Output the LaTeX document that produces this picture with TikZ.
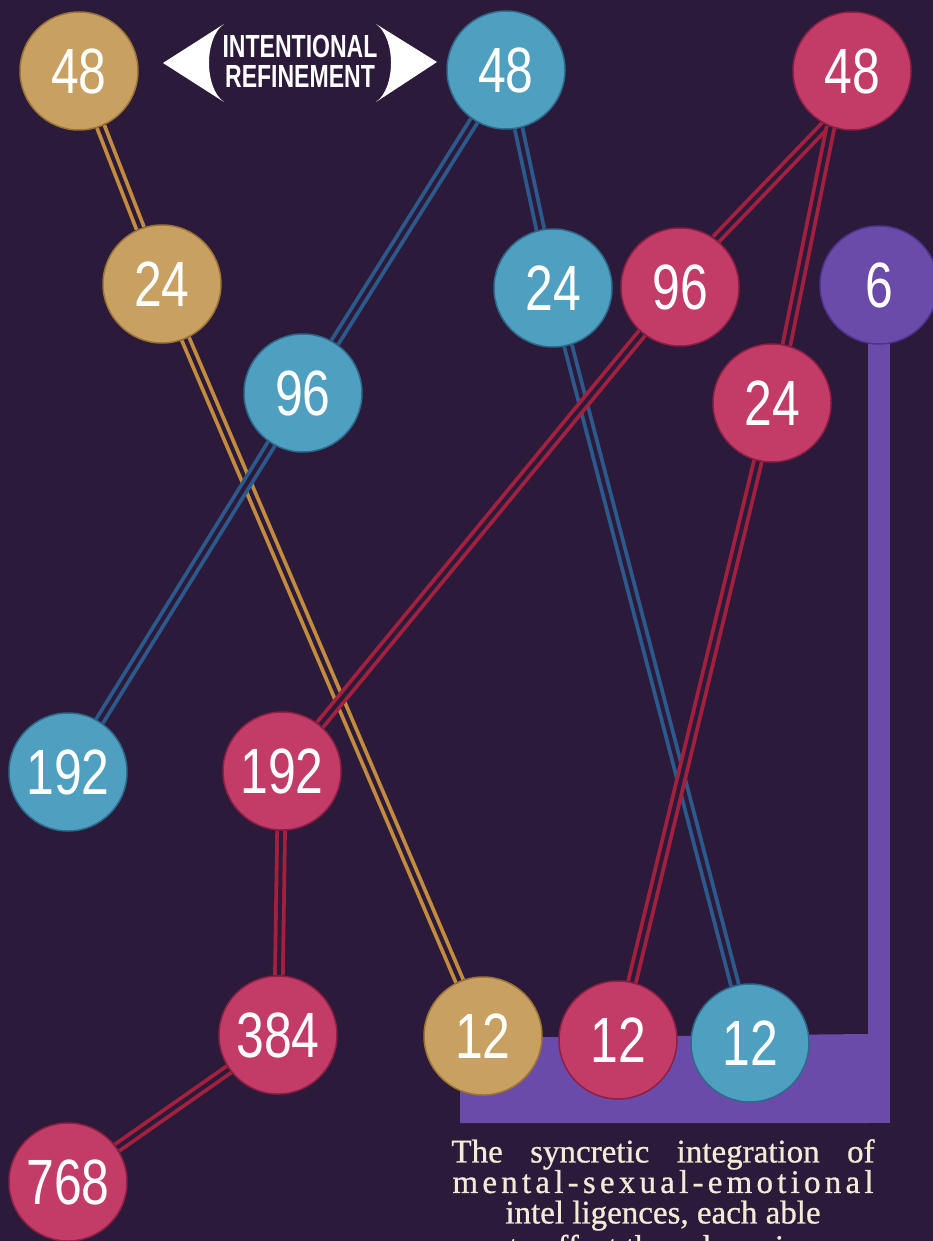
\documentclass[tikz,border=0pt]{standalone}
\usepackage{fontspec}
\setmainfont{Liberation Serif}
\newfontfamily\numfont[FakeStretch=0.78]{Liberation Sans}
\newfontfamily\condfont[FakeStretch=0.72]{Liberation Sans}
\newfontfamily\capfont[FakeBold=0.8]{Liberation Serif}
\usetikzlibrary{backgrounds}
\definecolor{bgc}{HTML}{2B1A3A}
\definecolor{goldc}{HTML}{C7A062}
\definecolor{goldd}{HTML}{9C7436}
\definecolor{goldr}{HTML}{C28B3E}
\definecolor{bluec}{HTML}{4F9FC0}
\definecolor{blued}{HTML}{2E6A8C}
\definecolor{bluer}{HTML}{2C5A8C}
\definecolor{redc}{HTML}{C33C68}
\definecolor{redd}{HTML}{8E1F44}
\definecolor{redr}{HTML}{A4203F}
\definecolor{purpc}{HTML}{6A4BAA}
\definecolor{purpd}{HTML}{4E3490}
\definecolor{capc}{HTML}{F3EBD6}
\begin{document}
\begin{tikzpicture}[x=1pt,y=-1pt,
  ball/.style={circle, minimum size=118pt, inner sep=0pt, line width=1.5pt,
    font=\numfont\fontsize{64}{64}\selectfont, text=white},
  goldball/.style={ball, fill=goldc, draw=goldd},
  blueball/.style={ball, fill=bluec, draw=blued},
  redball/.style={ball, fill=redc, draw=redd},
  purpball/.style={ball, fill=purpc, draw=purpd},
  rail/.style={double=bgc, double distance=4pt, line width=3.8pt},
  goldrail/.style={rail, draw=goldr},
  bluerail/.style={rail, draw=bluer},
  redrail/.style={rail, draw=redr},
  caption/.style={inner sep=0pt, align=center, text=capc,
    font=\capfont\fontsize{33}{30.5}\selectfont},
]
\useasboundingbox (0,0) rectangle (933,1241);

% nodes
\node[goldball] (g48) at (79,71) {48};
\node[blueball] (b48) at (506,70) {48};
\node[redball]  (r48) at (852,71) {48};
\node[goldball] (g24) at (162,284) {24};
\node[blueball] (b24) at (553,288) {24};
\node[redball]  (r96) at (680,287) {96};
\node[purpball] (p6)  at (879,285) {6};
\node[blueball] (b96) at (303,393) {96};
\node[redball]  (r24) at (772,403) {24};
\node[blueball] (b192) at (68,772) {192};
\node[redball]  (r192) at (282,771) {192};
\node[redball]  (r384) at (278,1035) {384};
\node[goldball] (g12) at (483,1036) {12};
\node[redball]  (r12) at (618,1040) {12};
\node[blueball] (b12) at (750,1043) {12};
\node[redball]  (r768) at (68,1182) {768};

\coordinate (trayR) at (879,1123);

\begin{pgfonlayer}{background}
  \fill[bgc] (0,0) rectangle (933,1241);
  % purple tray and bar
  \fill[purpc] (460,1038) -- (868,1034) -- (868,1123) -- (460,1123) -- cycle;
  \draw[purpc, line width=22pt] (p6.center) -- (trayR);
  % connectors
  \draw[goldrail] (g48) -- (g24);
  \draw[goldrail] (g24) -- (g12);
  \draw[bluerail] (b48) -- (b96);
  \draw[bluerail] (b48) -- (b24);
  \draw[bluerail] (b96) -- (b192);
  \draw[bluerail] (b24) -- (b12);
  \draw[redrail] (r48.244) -- (r96.53);
  \draw[redrail] (r48.249) -- (r24.76);
  \draw[redrail] (r96) -- (r192);
  \draw[redrail] (r24) -- (r12);
  \draw[redrail] (r192) -- (r384);
  \draw[redrail] (r384) -- (r768);
\end{pgfonlayer}

% double arrow label
\fill[white] (224,24) -- (163,63) -- (224,102) .. controls (204,88) and (204,38) .. (224,24) -- cycle;
\fill[white] (376,24) -- (437,62) -- (376,102) .. controls (396,88) and (396,38) .. (376,24) -- cycle;
\node[inner sep=0pt, text=white,
  font=\condfont\bfseries\fontsize{32}{32}\selectfont] (lbl1) at (300,46) {INTENTIONAL};
\node[inner sep=0pt, text=white,
  font=\condfont\bfseries\fontsize{32}{32}\selectfont] (lbl2) at (300,76) {REFINEMENT};

% caption
\begin{scope}
\clip (0,0) rectangle (933,1241);
\node[caption, anchor=north] (cap) at (663,1139)
  {\makebox[423pt][s]{The syncretic integration of}\\
   \makebox[421pt][s]{m\hfil e\hfil n\hfil t\hfil a\hfil l\hfil -\hfil s\hfil e\hfil x\hfil u\hfil a\hfil l\hfil -\hfil e\hfil m\hfil o\hfil t\hfil i\hfil o\hfil n\hfil a\hfil l}\\
   intel ligences, each able\\[4pt]
   to affect the subsuming};
\end{scope}
\end{tikzpicture}
\end{document}
